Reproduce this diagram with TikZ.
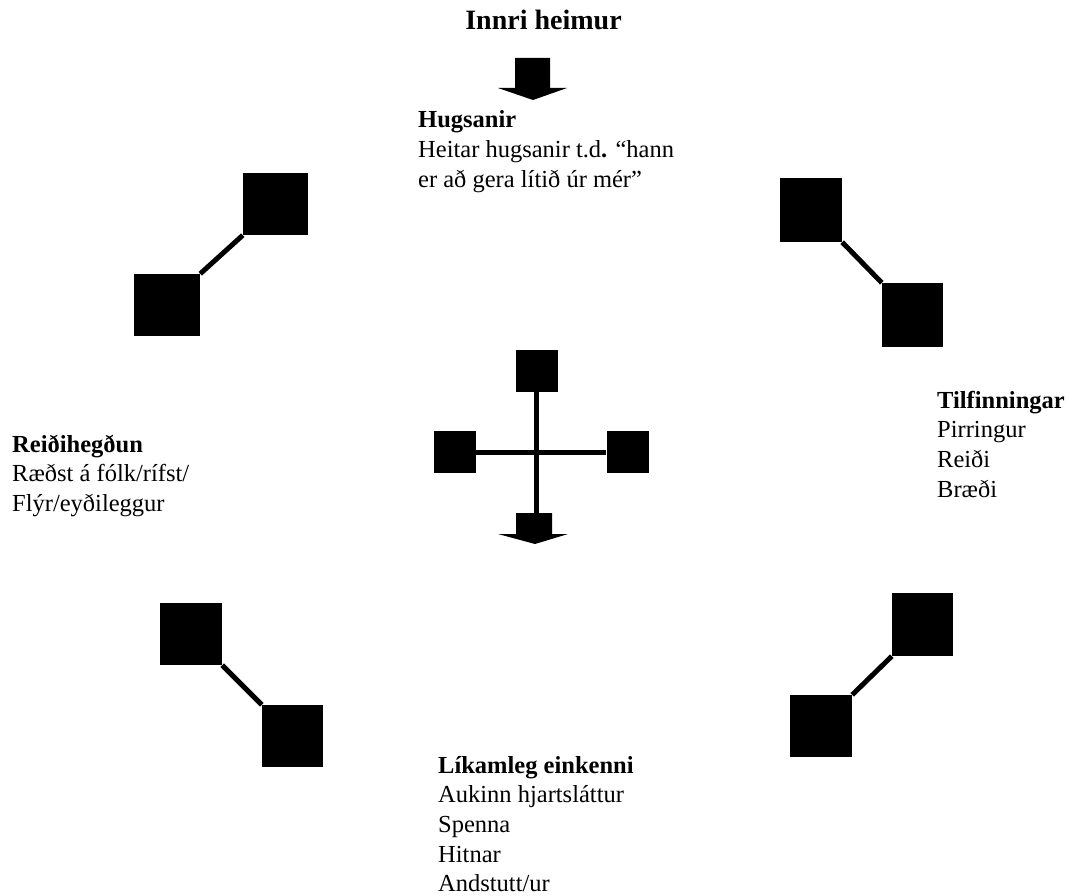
\documentclass[tikz,border=0pt]{standalone}
\usepackage{fontspec}
\setmainfont{Liberation Serif}
\tikzset{
  sq/.style={rectangle, fill=black, draw=none, inner sep=0pt},
  link/.style={line width=5pt, black},
  txt/.style={anchor=base west, inner sep=0pt, align=left,
    font=\fontsize{24.5}{29.7}\selectfont},
  ttl/.style={anchor=base, inner sep=0pt, font=\fontsize{28}{32}\selectfont\bfseries},
  blockarrow/.style={fill=black, draw=none}
}
\begin{document}
\begin{tikzpicture}[x=1pt,y=-1pt]
\useasboundingbox (0,0) rectangle (1070,896);
% title and top arrow
\node[ttl] (title) at (543.5,30) {Innri heimur};
\fill[blockarrow] (515,58) -- (550,58) -- (550,88) -- (567,88) -- (533,100) -- (498,88) -- (515,88) -- cycle;
% text blocks (base anchor = baseline of last line)
\node[txt] (hug) at (418,187.4) {\textbf{Hugsanir}\\Heitar hugsanir t.d\textbf{.} “hann\\er að gera lítið úr mér”};
\node[txt] (til) at (937,497.1) {\textbf{Tilfinningar}\\Pirringur\\Reiði\\Bræði};
\node[txt] (rei) at (12,511.4) {\textbf{Reiðihegðun}\\Ræðst á fólk/rífst/\\Flýr/eyðileggur};
\node[txt] (lik) at (438,891.8) {\textbf{Líkamleg einkenni}\\Aukinn hjartsláttur\\Spenna\\Hitnar\\Andstutt/ur};
% top-left pair
\node[sq, minimum width=65pt, minimum height=62pt] (tlA) at (275.5,204) {};
\node[sq, minimum width=66pt, minimum height=62pt] (tlB) at (167,305) {};
\draw[link] (tlA.south west) -- (tlB.north east);
% top-right pair
\node[sq, minimum width=62pt, minimum height=64pt] (trA) at (811,210) {};
\node[sq, minimum width=61pt, minimum height=64pt] (trB) at (912.5,315) {};
\draw[link] (trA.south east) -- (trB.north west);
% bottom-left pair
\node[sq, minimum width=62pt, minimum height=62pt] (blA) at (191,634) {};
\node[sq, minimum width=61pt, minimum height=62pt] (blB) at (292.5,736) {};
\draw[link] (blA.south east) -- (blB.north west);
% bottom-right pair
\node[sq, minimum width=61pt, minimum height=63pt] (brA) at (922.5,624.5) {};
\node[sq, minimum width=62pt, minimum height=62pt] (brB) at (821,726) {};
\draw[link] (brB.north east) -- (brA.south west);
% central cross
\coordinate (c) at (536.5,452);
\coordinate (bot) at (536.5,514);
\node[sq, minimum size=42pt] (ctop) at (536.5,371) {};
\node[sq, minimum size=42pt] (cleft) at (455,452) {};
\node[sq, minimum size=42pt] (cright) at (627.5,452) {};
\draw[link] (ctop.south) -- (bot);
\draw[link] (cleft.east) -- (cright.west);
\fill[blockarrow] (516,513) -- (552,513) -- (552,534) -- (568,534) -- (535,544) -- (498,534) -- (516,534) -- cycle;
\end{tikzpicture}
\end{document}
